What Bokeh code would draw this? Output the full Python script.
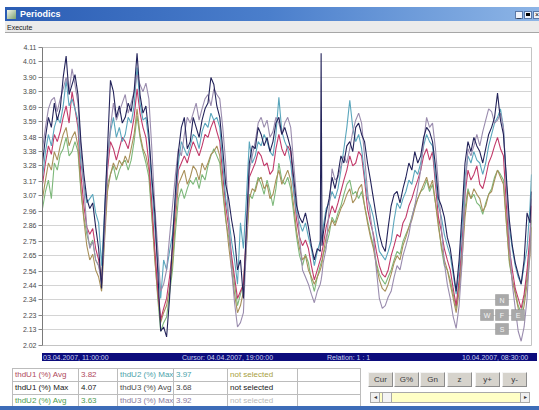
from datetime import datetime, timedelta
from bokeh.plotting import figure
from bokeh.models import Range1d, FixedTicker, PrintfTickFormatter, Div, Label, BoxAnnotation
from bokeh.layouts import column
from bokeh.embed import file_html
from bokeh.resources import INLINE

# ---------------- data ----------------
start_label = "03.04.2007, 11:00:00"
cursor_label = "Cursor: 04.04.2007, 19:00:00"
relation_label = "Relation: 1 : 1"
end_label = "10.04.2007, 08:30:00"
start_time = datetime(2007, 4, 3, 11, 0)
end_time = datetime(2007, 4, 10, 8, 30)

# sample times, hours after start (hourly readings plus a short spike on day 4)
hours = list(range(0, 95)) + [94.3, 94.6] + list(range(95, 166)) + [165.5]

thdU1_max = [3.30, 3.48, 3.62, 3.55, 3.72, 3.60, 3.68, 3.90, 4.05, 3.78,
             3.85, 3.92, 3.78, 3.45, 3.22, 3.05, 2.98, 3.02, 2.85, 2.70,
             2.42, 2.95, 3.40, 3.88, 3.80, 3.62, 3.70, 3.58, 3.62, 3.72,
             3.66, 3.80, 4.07, 3.78, 3.65, 3.70, 3.50, 3.20, 2.95, 2.55,
             2.12, 2.15, 2.08, 2.35, 2.75, 3.10, 3.38, 3.55, 3.62, 3.40,
             3.45, 3.62, 3.55, 3.48, 3.60, 3.68, 3.72, 3.90, 3.85, 3.70,
             3.62, 3.40, 3.15, 3.05, 2.90, 2.78, 2.55, 2.62, 2.35, 2.85,
             3.30, 3.42, 3.40, 3.55, 3.50, 3.42, 3.48, 3.38, 3.45, 3.58,
             3.62, 3.50, 3.55, 3.48, 3.40, 3.20, 3.00, 2.92, 2.88, 2.95,
             2.85, 2.72, 2.62, 2.70, 2.68,
             4.07, 2.72,
             2.80, 2.95, 3.05, 3.20, 3.12,
             3.22, 3.35, 3.30, 3.42, 3.45, 3.38, 3.55, 3.58, 3.50, 3.45,
             3.30, 3.18, 3.05, 2.92, 2.80, 2.72, 2.68, 2.85, 3.00, 3.08,
             3.10, 3.02, 3.12, 3.20, 3.30, 3.25, 3.38, 3.30, 3.35, 3.48,
             3.55, 3.52, 3.45, 3.28, 3.05, 3.00, 2.92, 2.78, 2.70, 2.55,
             2.40, 2.62, 2.95, 3.30, 3.45, 3.38, 3.48, 3.42, 3.38, 3.30,
             3.40, 3.50, 3.55, 3.62, 3.79, 3.60, 3.50, 3.20, 2.90, 2.72,
             2.60, 2.52, 2.45, 2.62, 2.95, 2.88,
             3.10]
thdU3_max = [3.40, 3.55, 3.68, 3.74, 3.76, 3.66, 3.75, 3.82, 3.90, 3.80,
             3.96, 3.85, 3.72, 3.40, 3.12, 2.85, 2.70, 2.75, 2.62, 2.58,
             2.45, 2.80, 3.30, 3.55, 3.72, 3.60, 3.66, 3.72, 3.78, 3.65,
             3.72, 3.80, 3.92, 3.85, 3.80, 3.86, 3.75, 3.40, 3.00, 2.70,
             2.40, 2.45, 2.55, 2.78, 3.00, 3.22, 3.40, 3.35, 3.50, 3.62,
             3.58, 3.65, 3.72, 3.60, 3.68, 3.75, 3.78, 3.70, 3.82, 3.78,
             3.75, 3.55, 3.30, 2.90, 2.55, 2.32, 2.15, 2.18, 2.25, 2.72,
             3.25, 3.35, 3.45, 3.58, 3.62, 3.55, 3.60, 3.48, 3.52, 3.62,
             3.58, 3.50, 3.58, 3.62, 3.55, 3.30, 3.05, 2.78, 2.55, 2.50,
             2.45, 2.38, 2.32, 2.40, 2.45,
             2.48, 2.52,
             2.60, 2.70, 2.98, 3.26, 3.18,
             3.20, 3.28, 3.35, 3.30, 3.40, 3.52, 3.60, 3.65, 3.58, 3.35,
             3.10, 2.92, 2.78, 2.55, 2.35, 2.28, 2.30, 2.36, 2.40, 2.50,
             2.58, 2.55, 2.65, 2.72, 2.80, 2.92, 3.00, 3.12, 3.25, 3.45,
             3.62, 3.55, 3.58, 3.40, 3.15, 2.85, 2.60, 2.45, 2.35, 2.22,
             2.14, 2.30, 2.60, 3.10, 3.40, 3.35, 3.42, 3.50, 3.42, 3.52,
             3.60, 3.68, 3.66, 3.58, 3.60, 3.65, 3.55, 3.15, 2.75, 2.45,
             2.28, 2.12, 2.05, 2.15, 2.35, 2.70,
             3.05]
thdU2_max = [3.20, 3.38, 3.50, 3.42, 3.55, 3.62, 3.58, 3.70, 3.88, 3.70,
             3.75, 3.68, 3.60, 3.30, 3.15, 3.02, 3.05, 3.08, 2.95, 2.88,
             2.58, 2.95, 3.35, 3.52, 3.62, 3.48, 3.55, 3.45, 3.50, 3.62,
             3.58, 3.70, 3.97, 3.72, 3.60, 3.62, 3.45, 3.15, 2.85, 2.60,
             2.35, 2.62, 2.55, 2.68, 2.80, 3.05, 3.30, 3.45, 3.40, 3.35,
             3.42, 3.50, 3.48, 3.40, 3.52, 3.58, 3.55, 3.65, 3.60, 3.62,
             3.55, 3.30, 3.05, 2.92, 2.75, 2.62, 2.45, 2.88, 2.70, 3.05,
             3.45, 3.30, 3.35, 3.45, 3.42, 3.50, 3.45, 3.38, 3.35, 3.50,
             3.76, 3.52, 3.45, 3.40, 3.30, 3.10, 2.95, 2.88, 2.82, 2.88,
             2.78, 2.70, 2.58, 2.68, 2.75,
             2.76, 2.80,
             2.85, 2.98, 3.02, 3.10, 3.05,
             3.12, 3.25, 3.40, 3.55, 3.74, 3.55, 3.45, 3.50, 3.40, 3.22,
             3.05, 3.00, 2.92, 2.80, 2.68, 2.65, 2.62, 2.68, 2.75, 2.90,
             3.02, 2.98, 3.05, 3.10, 3.18, 3.15, 3.25, 3.22, 3.30, 3.42,
             3.50, 3.45, 3.42, 3.20, 3.00, 2.92, 2.80, 2.72, 2.65, 2.52,
             2.38, 2.55, 2.85, 3.20, 3.35, 3.30, 3.38, 3.32, 3.30, 3.22,
             3.30, 3.42, 3.50, 3.58, 3.62, 3.68, 3.55, 3.15, 2.85, 2.70,
             2.58, 2.50, 2.45, 2.58, 2.70, 3.00,
             3.22]
thdU1_avg = [3.15, 3.30, 3.42, 3.36, 3.50, 3.45, 3.52, 3.62, 3.70, 3.58,
             3.80, 3.68, 3.55, 3.22, 3.00, 2.85, 2.80, 2.84, 2.70, 2.62,
             2.46, 2.85, 3.25, 3.45, 3.40, 3.32, 3.40, 3.48, 3.45, 3.40,
             3.50, 3.62, 3.82, 3.65, 3.55, 3.48, 3.30, 3.02, 2.70, 2.42,
             2.20, 2.28, 2.35, 2.50, 2.70, 3.00, 3.25, 3.30, 3.35, 3.30,
             3.38, 3.45, 3.40, 3.35, 3.42, 3.50, 3.48, 3.55, 3.60, 3.52,
             3.45, 3.22, 3.00, 2.85, 2.65, 2.50, 2.35, 2.40, 2.45, 2.80,
             3.20, 3.25, 3.30, 3.38, 3.35, 3.28, 3.30, 3.22, 3.25, 3.40,
             3.50, 3.40, 3.35, 3.42, 3.38, 3.12, 2.90, 2.78, 2.72, 2.76,
             2.70, 2.58, 2.48, 2.55, 2.62,
             2.64, 2.68,
             2.72, 2.85, 2.92, 3.00, 2.95,
             3.02, 3.10, 3.18, 3.25, 3.35, 3.28, 3.30, 3.38, 3.35, 3.18,
             2.98, 2.88, 2.80, 2.68, 2.58, 2.52, 2.50, 2.55, 2.65, 2.72,
             2.80, 2.78, 2.88, 2.92, 3.00, 3.05, 3.12, 3.18, 3.25, 3.35,
             3.40, 3.32, 3.38, 3.15, 2.92, 2.82, 2.70, 2.62, 2.55, 2.42,
             2.30, 2.48, 2.75, 3.08, 3.25, 3.18, 3.22, 3.28, 3.15, 3.12,
             3.20, 3.30, 3.35, 3.42, 3.48, 3.40, 3.35, 3.00, 2.70, 2.55,
             2.42, 2.35, 2.28, 2.38, 2.55, 2.80,
             3.00]
thdU3_avg = [3.05, 3.18, 3.30, 3.25, 3.38, 3.32, 3.42, 3.50, 3.55, 3.42,
             3.48, 3.52, 3.42, 3.12, 2.90, 2.72, 2.62, 2.66, 2.55, 2.50,
             2.40, 2.75, 3.10, 3.22, 3.30, 3.25, 3.32, 3.28, 3.35, 3.30,
             3.40, 3.50, 3.68, 3.50, 3.40, 3.35, 3.25, 2.95, 2.62, 2.38,
             2.18, 2.25, 2.30, 2.42, 2.60, 2.90, 3.15, 3.20, 3.25, 3.15,
             3.20, 3.28, 3.25, 3.18, 3.30, 3.25, 3.30, 3.36, 3.38, 3.42,
             3.35, 3.12, 2.92, 2.72, 2.55, 2.38, 2.25, 2.30, 2.40, 2.70,
             3.05, 3.12, 3.10, 3.18, 3.20, 3.12, 3.15, 3.05, 3.08, 3.18,
             3.25, 3.15, 3.20, 3.25, 3.18, 3.00, 2.82, 2.70, 2.62, 2.65,
             2.55, 2.50, 2.45, 2.50, 2.55,
             2.57, 2.60,
             2.66, 2.78, 2.84, 2.90, 2.86,
             2.92, 2.98, 3.02, 3.08, 3.12, 3.02, 3.05, 3.12, 3.15, 3.00,
             2.88, 2.78, 2.70, 2.58, 2.48, 2.42, 2.40, 2.45, 2.52, 2.60,
             2.65, 2.62, 2.72, 2.78, 2.85, 2.90, 2.98, 3.05, 3.10, 3.15,
             3.20, 3.12, 3.18, 3.02, 2.85, 2.72, 2.62, 2.55, 2.45, 2.35,
             2.25, 2.40, 2.62, 2.92, 3.10, 3.05, 3.12, 3.08, 3.05, 2.96,
             3.00, 3.08, 3.10, 3.18, 3.25, 3.20, 3.15, 2.88, 2.62, 2.48,
             2.38, 2.28, 2.20, 2.30, 2.45, 2.65,
             2.85]
thdU2_avg = [2.98, 3.10, 3.18, 3.05, 3.30, 3.25, 3.36, 3.40, 3.48, 3.35,
             3.38, 3.45, 3.38, 3.10, 2.92, 2.80, 2.72, 2.76, 2.62, 2.58,
             2.50, 2.82, 3.15, 3.22, 3.28, 3.18, 3.25, 3.30, 3.32, 3.25,
             3.32, 3.45, 3.63, 3.48, 3.38, 3.30, 3.20, 2.92, 2.65, 2.35,
             2.12, 2.18, 2.22, 2.38, 2.55, 2.82, 3.05, 3.12, 3.05, 3.12,
             3.18, 3.15, 3.20, 3.12, 3.22, 3.18, 3.28, 3.35, 3.40, 3.35,
             3.30, 3.10, 2.90, 2.78, 2.62, 2.45, 2.30, 2.38, 2.45, 2.75,
             3.08, 3.05, 3.12, 3.20, 3.15, 3.08, 3.18, 3.10, 3.00, 3.12,
             3.30, 3.18, 3.15, 3.20, 3.12, 2.95, 2.78, 2.65, 2.58, 2.66,
             2.60, 2.48, 2.40, 2.50, 2.58,
             2.60, 2.62,
             2.66, 2.72, 2.80, 2.92, 2.88,
             2.95, 3.00, 3.08, 3.15, 3.18, 3.08, 3.10, 3.05, 3.10, 3.00,
             2.90, 2.80, 2.72, 2.60, 2.52, 2.48, 2.45, 2.50, 2.55, 2.62,
             2.68, 2.66, 2.75, 2.80, 2.85, 2.92, 3.00, 3.05, 3.10, 3.12,
             3.18, 3.10, 3.15, 3.02, 2.88, 2.70, 2.58, 2.55, 2.48, 2.38,
             2.28, 2.45, 2.68, 2.98, 3.12, 3.05, 3.08, 3.02, 3.00, 2.94,
             3.02, 3.08, 3.12, 3.20, 3.25, 3.22, 3.18, 2.88, 2.60, 2.48,
             2.40, 2.30, 2.25, 2.35, 2.50, 2.72,
             2.90]

y_ticks = [2.02, 2.13, 2.23, 2.34, 2.44, 2.54, 2.65, 2.75, 2.86, 2.96, 3.07,
           3.17, 3.28, 3.38, 3.48, 3.59, 3.69, 3.80, 3.90, 4.01, 4.11]

col1_names = ["thdU1 (%) Avg", "thdU1 (%) Max", "thdU2 (%) Avg"]
col1_values = ["3.82", "4.07", "3.63"]
col1_colors = ["#b04a5c", "#202020", "#4f9c4f"]
col2_names = ["thdU2 (%) Max", "thdU3 (%) Avg", "thdU3 (%) Max"]
col2_values = ["3.97", "3.68", "3.92"]
col2_colors = ["#4aa2aa", "#4a4a4a", "#8a7a9c"]
col3_names = ["not selected", "not selected", "not selected"]
col3_colors = ["#a8a040", "#202020", "#b8b8b8"]
button_labels = ["Cur", "G%", "Gn", "z", "y+", "y-"]
nav_labels = ["N", "W", "F", "E", "S"]

series = [
    (thdU2_avg, "#7db87a"),
    (thdU3_avg, "#a8905a"),
    (thdU1_avg, "#c23a6a"),
    (thdU2_max, "#5aa6bc"),
    (thdU3_max, "#9a8cae"),
    (thdU1_max, "#23235a"),
]
for s, _ in series:
    assert len(s) == len(hours), len(s)

times = [start_time + timedelta(hours=h) for h in hours]
FONT = "'Liberation Sans', Arial, sans-serif"
W = 539

# ---------------- chart ----------------
p = figure(width=W, height=317, x_axis_type="datetime", output_backend="svg",
           toolbar_location=None, tools="", title=None,
           x_range=Range1d(start_time, end_time), y_range=Range1d(2.02, 4.11),
           min_border_left=42, min_border_right=8, min_border_top=13, min_border_bottom=6,
           background_fill_color="white", border_fill_color="white")
p.outline_line_color = "#c4c4c4"
p.xaxis.visible = False
p.xgrid.visible = False
ticker = FixedTicker(ticks=y_ticks)
p.yaxis.ticker = ticker
p.ygrid.ticker = ticker
p.ygrid.grid_line_color = "#d4d4d4"
p.yaxis.formatter = PrintfTickFormatter(format="%.2f")
p.yaxis.major_label_text_font = "Liberation Sans"
p.yaxis.major_label_text_font_size = "7px"
p.yaxis.major_label_text_color = "#4a4a4a"
p.yaxis.major_tick_in = 0
p.yaxis.major_tick_out = 4
p.yaxis.minor_tick_line_color = None
p.yaxis.major_tick_line_color = "#8a8a8a"
p.yaxis.axis_line_color = "#7a7a7a"
p.yaxis.major_label_standoff = 2

for vals, col in series:
    p.line(times, vals, line_color=col, line_width=1.1)

# navigation buttons N / W / F / E / S (frame-relative screen units)
nav_boxes = {"N": (453, 466, 40, 51), "W": (438, 451, 25, 36), "F": (453, 466, 25, 36),
             "E": (469, 482, 25, 36), "S": (453, 466, 11, 22)}
for lab in nav_labels:
    l, r, b, t = nav_boxes[lab]
    p.add_layout(BoxAnnotation(left=l, right=r, bottom=b, top=t,
                               left_units="screen", right_units="screen",
                               bottom_units="screen", top_units="screen",
                               fill_color="#a9a9a9", fill_alpha=1.0,
                               line_color="#6e6e6e", line_width=1))
    p.add_layout(Label(x=(l + r) / 2, y=(b + t) / 2, x_units="screen", y_units="screen",
                       text=lab, text_align="center", text_baseline="middle",
                       text_font="Liberation Sans", text_font_size="7px",
                       text_color="#f4f4f4"))

# ---------------- window chrome ----------------
title_html = (
    f'<div style="position:relative;width:{W}px;height:21px;overflow:hidden;background:#ffffff;font-family:{FONT};">'
    '<div style="position:absolute;left:5px;top:7px;width:534px;height:14px;'
    'background:linear-gradient(to right,#2b5db4 0%,#4b7fcc 50%,#8db5e6 100%);"></div>'
    '<div style="position:absolute;left:7px;top:10px;width:9px;height:9px;'
    'background:linear-gradient(135deg,#f2f6ea,#7aa070);"></div>'
    '<div style="position:absolute;left:20px;top:8px;line-height:13px;font-size:9px;'
    'font-weight:bold;color:#ffffff;white-space:nowrap;">Periodics</div>'
    '<div style="position:absolute;left:515px;top:11px;width:8px;height:8px;box-sizing:border-box;'
    'background:#eef2fa;border:1px solid #5a78a8;font-size:7px;line-height:5px;text-align:center;color:#000;">_</div>'
    '<div style="position:absolute;left:524px;top:11px;width:8px;height:8px;box-sizing:border-box;'
    'background:#eef2fa;border:1px solid #5a78a8;"><div style="margin:1px;width:4px;height:3px;'
    'border:1px solid #000;border-top-width:2px;"></div></div>'
    '<div style="position:absolute;left:533px;top:11px;width:8px;height:8px;box-sizing:border-box;'
    'background:#eef2fa;border:1px solid #5a78a8;font-size:7px;line-height:6px;text-align:center;color:#000;">&#215;</div>'
    '</div>'
)
menu_html = (
    f'<div style="position:relative;width:{W}px;height:13px;overflow:hidden;background:#ffffff;font-family:{FONT};">'
    '<div style="position:absolute;left:5px;top:0px;width:534px;height:12px;background:#ebebeb;'
    'border-bottom:1px solid #a6a6a6;"></div>'
    '<div style="position:absolute;left:7px;top:2px;line-height:9px;font-size:7px;color:#1a1a1a;">Execute</div>'
    '</div>'
)
bar_html = (
    f'<div style="position:relative;width:{W}px;height:10px;overflow:hidden;background:#ffffff;font-family:{FONT};">'
    '<div style="position:absolute;left:42px;top:0px;width:495px;height:10px;background:#0c0c7c;"></div>'
    f'<div style="position:absolute;left:43px;top:0px;line-height:10px;font-size:7px;color:#c8d2ee;white-space:nowrap;">{start_label}</div>'
    f'<div style="position:absolute;left:182px;top:0px;line-height:10px;font-size:7px;color:#c8d2ee;white-space:nowrap;">{cursor_label}</div>'
    f'<div style="position:absolute;left:327px;top:0px;line-height:10px;font-size:7px;color:#c8d2ee;white-space:nowrap;">{relation_label}</div>'
    f'<div style="position:absolute;left:462px;top:0px;line-height:10px;font-size:7px;color:#c8d2ee;white-space:nowrap;">{end_label}</div>'
    '</div>'
)

col_widths = [66, 39, 56, 54, 70, 63]
cell = ('border:1px solid #bcbcbc;padding:0 0 0 2px;height:12px;line-height:12px;'
        'font-size:8px;white-space:nowrap;overflow:hidden;')
rows = ""
for i in range(3):
    rows += "<tr>"
    rows += f'<td style="{cell}color:{col1_colors[i]};">{col1_names[i]}</td>'
    rows += f'<td style="{cell}color:{col1_colors[i]};">{col1_values[i]}</td>'
    rows += f'<td style="{cell}color:{col2_colors[i]};">{col2_names[i]}</td>'
    rows += f'<td style="{cell}color:{col2_colors[i]};">{col2_values[i]}</td>'
    rows += f'<td style="{cell}color:{col3_colors[i]};">{col3_names[i]}</td>'
    rows += f'<td style="{cell}"></td>'
    rows += "</tr>"
colgroup = "".join(f'<col style="width:{w}px">' for w in col_widths)
table_html = (
    '<table style="position:absolute;left:12px;top:7px;border-collapse:collapse;table-layout:fixed;'
    f'width:{sum(col_widths)}px;border:1px solid #9a9a9a;background:#ffffff;">'
    f'<colgroup>{colgroup}</colgroup>{rows}</table>'
)
btn_lefts = [368, 394, 420, 447, 475, 502]
buttons_html = ""
for lab, lft in zip(button_labels, btn_lefts):
    buttons_html += (
        f'<div style="position:absolute;left:{lft}px;top:11px;width:25px;height:15px;box-sizing:border-box;'
        'background:#d6d3cc;border:1px solid #8c8c8c;border-top-color:#f4f4f4;border-left-color:#f4f4f4;'
        f'text-align:center;line-height:13px;font-size:8px;color:#3a3a3a;">{lab}</div>'
    )
scroll_html = (
    '<div style="position:absolute;left:370px;top:31px;width:160px;height:11px;box-sizing:border-box;'
    'border:1px solid #a8a8a8;background:#ffffc6;"></div>'
    '<div style="position:absolute;left:370px;top:31px;width:10px;height:11px;box-sizing:border-box;'
    'border:1px solid #a8a8a8;background:#f0f0f0;font-size:6px;line-height:9px;text-align:center;color:#333;">&#9666;</div>'
    '<div style="position:absolute;left:382px;top:31px;width:10px;height:11px;box-sizing:border-box;'
    'border:1px solid #a8a8a8;background:#f4f4f4;"></div>'
    '<div style="position:absolute;left:520px;top:31px;width:10px;height:11px;box-sizing:border-box;'
    'border:1px solid #a8a8a8;background:#f0f0f0;font-size:6px;line-height:9px;text-align:center;color:#333;">&#9656;</div>'
)
bottom_html = (
    f'<div style="position:relative;width:{W}px;height:49px;overflow:hidden;background:#ffffff;font-family:{FONT};">'
    + table_html + buttons_html + scroll_html +
    f'<div style="position:absolute;left:0px;top:45px;width:{W}px;height:4px;background:#3d6cb8;"></div>'
    '</div>'
)

title_div = Div(text=title_html, width=W, height=21, margin=0)
menu_div = Div(text=menu_html, width=W, height=13, margin=0)
bar_div = Div(text=bar_html, width=W, height=10, margin=0)
bottom_div = Div(text=bottom_html, width=W, height=49, margin=0)

layout = column(title_div, menu_div, p, bar_div, bottom_div, spacing=0)
open("out.html", "w").write(file_html(layout, INLINE))
